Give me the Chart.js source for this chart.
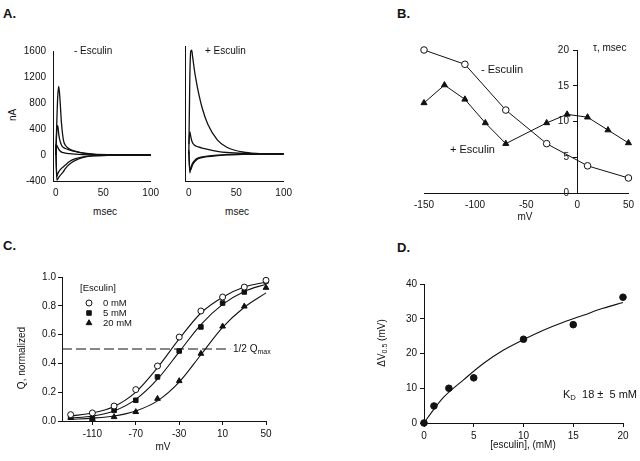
<!DOCTYPE html>
<html>
<head>
<meta charset="utf-8">
<script src="https://cdn.jsdelivr.net/npm/chart.js@4.4.1/dist/chart.umd.min.js"></script>
<style>
  body { margin: 0; background: #fff; }
  #fig { position: relative; width: 640px; height: 461px; overflow: hidden;
         font-family: Arial, "Liberation Sans", sans-serif; color: #111; }
  canvas { position: absolute; }
  .t { position: absolute; white-space: nowrap; font-size: 10px; line-height: 1; }
  .c { transform: translate(-50%, -50%); }
  .l { transform: translateY(-50%); }
  .rot { transform: translate(-50%, -50%) rotate(-90deg); }
  .p { font-weight: bold; font-size: 13px; }
  sub { font-size: 70%; vertical-align: -2px; line-height: 0; }
</style>
</head>
<body>
<div id="fig">
  <canvas id="aCtrl" width="145" height="165" style="left:20px;top:38px"></canvas>
  <canvas id="aEsc" width="118" height="165" style="left:180px;top:38px"></canvas>
  <canvas id="bTau" width="232" height="177" style="left:408px;top:40px"></canvas>
  <canvas id="cQ" width="258" height="174" style="left:20px;top:269px"></canvas>
  <canvas id="dShift" width="245" height="170" style="left:390px;top:275px"></canvas>

  <div class="t l p" style="left:3px;top:13px">A.</div>
  <div class="t l p" style="left:397px;top:13px">B.</div>
  <div class="t l p" style="left:3px;top:245px">C.</div>
  <div class="t l p" style="left:397px;top:247px">D.</div>

  <!-- A -->
  <div class="t rot" style="left:13px;top:115px">nA</div>
  <div class="t l" style="left:74px;top:51px">- Esculin</div>
  <div class="t l" style="left:205px;top:51px">+ Esculin</div>
  <div class="t c" style="left:105px;top:212px">msec</div>
  <div class="t c" style="left:237px;top:212px">msec</div>

  <!-- B -->
  <div class="t l" style="left:481px;top:69px;font-size:11px">- Esculin</div>
  <div class="t l" style="left:450px;top:149px;font-size:11px">+ Esculin</div>
  <div class="t l" style="left:593px;top:48px">τ, msec</div>
  <div class="t c" style="left:525px;top:217px">mV</div>

  <!-- C -->
  <div class="t rot" style="left:22px;top:358px">Q, normalized</div>
  <div class="t l" style="left:80px;top:288px;font-size:9.5px">[Esculin]</div>
  <div class="t l" style="left:103px;top:303px;font-size:9.5px">0 mM</div>
  <div class="t l" style="left:103px;top:313px;font-size:9.5px">5 mM</div>
  <div class="t l" style="left:103px;top:323px;font-size:9.5px">20 mM</div>
  <div class="t l" style="left:233px;top:349px">1/2 Q<sub>max</sub></div>
  <div class="t c" style="left:163px;top:447px">mV</div>

  <!-- D -->
  <div class="t rot" style="left:382px;top:343px">ΔV<sub>0.5</sub> (mV)</div>
  <div class="t l" style="left:563px;top:394px;font-size:11px">K<sub>D</sub>&nbsp; 18 ±&nbsp; 5 mM</div>
  <div class="t c" style="left:523px;top:445px">[esculin], (mM)</div>
</div>

<script>
// ---- A: charge movement traces (nA vs msec)
const traceTime = [0, 1, 2, 3, 4, 6, 8, 10, 14, 20, 30, 40, 60, 80, 100];
const ctrlOn1 = [0, 500, 900, 1056, 930, 480, 230, 150, 95, 60, 25, 10, 3, 0, 0];
const ctrlOn2 = [0, 380, 450, 330, 240, 150, 115, 100, 80, 55, 28, 12, 4, 0, 0];
const ctrlOn3 = [0, 150, 120, 90, 70, 45, 35, 28, 20, 12, 6, 3, 0, 0, 0];
const ctrlOff1 = [160, -330, -290, -260, -235, -205, -180, -155, -105, -60, -25, -10, -3, 0, 0];
const ctrlOff2 = [100, -385, -370, -345, -325, -290, -255, -210, -145, -87, -33, -13, -4, 0, 0];
const escOn1 = [0, 1100, 1520, 1540, 1440, 1230, 1065, 920, 685, 440, 210, 100, 22, 5, 0];
const escOn2 = [150, 330, 260, 200, 165, 130, 115, 105, 88, 68, 40, 22, 7, 2, 0];
const escOff1 = [60, -280, -210, -165, -135, -98, -72, -58, -42, -30, -18, -10, -4, -1, 0];
const escOff2 = [30, -235, -235, -195, -158, -115, -88, -70, -52, -38, -24, -13, -5, -2, 0];
const aTicksX = [0, 50, 100];
const aTicksY = [-400, 0, 400, 800, 1200, 1600];

// ---- B: time constants (msec vs mV)
const bCtrlV = [-150, -110, -70, -30, 10, 50];
const bCtrlTau = [20, 18, 11.6, 6.9, 3.8, 2.1];
const bEscV = [-150, -130, -110, -90, -70, -30, -10, 10, 30, 50];
const bEscTau = [12.6, 15.1, 13.1, 9.8, 6.9, 9.8, 11.0, 10.6, 8.8, 7.0];
const bTicksX = [-150, -100, -50, 0, 50];
const bTicksY = [0, 5, 10, 15, 20];

// ---- C: Q-V curves
const cVoltage = [-130, -110, -90, -70, -50, -30, -10, 10, 30, 50];
const cQ0 = [0.044, 0.056, 0.104, 0.218, 0.382, 0.583, 0.764, 0.861, 0.93, 0.977];
const cQ5 = [0.028, 0.021, 0.074, 0.144, 0.306, 0.486, 0.653, 0.819, 0.896, 0.972];
const cQ20 = [0.023, 0.016, 0.028, 0.063, 0.155, 0.278, 0.468, 0.657, 0.796, 0.926];
const cFit0 = [0.035, 0.055, 0.1, 0.2, 0.37, 0.57, 0.75, 0.86, 0.93, 0.965];
const cFit5 = [0.02, 0.035, 0.07, 0.15, 0.29, 0.48, 0.67, 0.81, 0.9, 0.95];
const cFit20 = [0.012, 0.02, 0.035, 0.07, 0.14, 0.27, 0.46, 0.65, 0.79, 0.89];
const cHalfX = [-138, 17];
const cHalfY = [0.5, 0.5];
const cLegend = ['0 mM', '5 mM', '20 mM'];
const cTicksX = [-110, -70, -30, 10, 50];
const cTicksY = [0, 0.2, 0.4, 0.6, 0.8, 1.0];

// ---- D: shift of V0.5 vs [esculin]
const dConc = [0, 1, 2.5, 5, 10, 15, 20];
const dShift = [0, 4.9, 10, 13, 24.1, 28.3, 36.2];
const dFitConc = [0, 1, 2, 4, 6, 8, 10, 12, 14, 16, 18, 20];
const dFitShift = [0, 4, 7.5, 12.5, 17.2, 21, 24, 26.7, 29, 31, 33, 34.7];
const dTicksX = [0, 5, 10, 15, 20];
const dTicksY = [0, 10, 20, 30, 40];

const INK = '#111';
Chart.defaults.font.family = 'Arial, "Liberation Sans", sans-serif';
Chart.defaults.font.size = 10;
Chart.defaults.color = INK;

function xy(xs, ys) {
  return xs.map((x, i) => ({ x: x, y: ys[i] }));
}

// one linear axis, size fixed so the plot area lands where it should
function axis(min, max, tickValues, size, tickLen, pad, isX) {
  return {
    type: 'linear',
    min: min,
    max: max,
    afterBuildTicks: s => { s.ticks = tickValues.map(v => ({ value: v })); },
    afterFit: s => { if (isX) s.height = size; else s.width = size; },
    grid: { display: tickLen > 0, drawOnChartArea: false, drawTicks: tickLen > 0,
            tickLength: tickLen, color: INK, lineWidth: 1 },
    border: { display: true, color: INK, width: 1 },
    ticks: { padding: pad, autoSkip: false, maxRotation: 0, color: INK,
             callback: v => String(v) }
  };
}

function trace(ys) {
  return {
    data: xy(traceTime, ys),
    borderColor: INK,
    borderWidth: 1.3,
    pointRadius: 0,
    cubicInterpolationMode: 'monotone',
    clip: false
  };
}

function baseOptions(padding, scales) {
  return {
    responsive: false,
    animation: false,
    layout: { padding: padding },
    plugins: { legend: { display: false }, tooltip: { enabled: false } },
    scales: scales
  };
}

// A, without esculin
new Chart(document.getElementById('aCtrl'), {
  type: 'line',
  data: { datasets: [ctrlOn1, ctrlOn2, ctrlOn3, ctrlOff1, ctrlOff2].map(trace) },
  options: baseOptions({ left: 0, top: 8, right: 12, bottom: 0 }, {
    x: axis(-3, 100, aTicksX, 22, 0, 6, true),
    y: axis(-400, 1600, aTicksY, 33, 0, 7, false)
  })
});

// A, with esculin (no y labels)
const aEscY = axis(-400, 1600, aTicksY, 0, 0, 0, false);
aEscY.ticks.display = false;
new Chart(document.getElementById('aEsc'), {
  type: 'line',
  data: { datasets: [escOn1, escOn2, escOff1, escOff2].map(trace) },
  options: baseOptions({ left: 4, top: 8, right: 12, bottom: 0 }, {
    x: axis(-4, 100, aTicksX, 22, 0, 6, true),
    y: aEscY
  })
});

// B, the tau axis crosses at 0 mV; labels sit to its left
const bY = axis(0, 20, bTicksY, 0, 4, 3, false);
bY.position = { x: 0 };
bY.ticks.callback = v => String(v) + '   ';
new Chart(document.getElementById('bTau'), {
  type: 'line',
  data: {
    datasets: [
      { data: xy(bEscV, bEscTau), borderColor: INK, borderWidth: 1, pointStyle: 'triangle',
        pointRadius: 3.5, pointBackgroundColor: INK, pointBorderColor: INK, clip: false },
      { data: xy(bCtrlV, bCtrlTau), borderColor: INK, borderWidth: 1, pointStyle: 'circle',
        pointRadius: 3.3, pointBackgroundColor: '#fff', pointBorderColor: INK, pointBorderWidth: 1, clip: false }
    ]
  },
  options: baseOptions({ left: 14, top: 10, right: 8, bottom: 0 }, {
    x: axis(-150, 50, bTicksX, 24, 0, 6, true),
    y: bY
  })
});

// C
const cLegendMarks = {
  id: 'cLegendMarks',
  afterDatasetsDraw(chart) {
    const ctx = chart.ctx;
    const a = chart.chartArea;
    cLegend.forEach((name, i) => {
      const ds = chart.data.datasets[i];
      ctx.save();
      ctx.fillStyle = ds.pointBackgroundColor;
      ctx.strokeStyle = ds.pointBorderColor;
      ctx.lineWidth = 1;
      Chart.helpers.drawPoint(ctx, { pointStyle: ds.pointStyle, radius: ds.pointRadius, borderWidth: 1, rotation: 0 },
        a.left + 27, a.top + 26 + i * 10);
      ctx.restore();
    });
  }
};

function qPoints(ys, style, fill, r) {
  return { data: xy(cVoltage, ys), showLine: false, pointStyle: style, pointRadius: r,
           pointBackgroundColor: fill, pointBorderColor: INK, pointBorderWidth: 1, clip: false };
}
function qFit(ys) {
  return { data: xy(cVoltage, ys), borderColor: INK, borderWidth: 1.1, pointRadius: 0,
           cubicInterpolationMode: 'monotone', clip: false };
}

new Chart(document.getElementById('cQ'), {
  type: 'line',
  data: {
    datasets: [
      qPoints(cQ0, 'circle', '#fff', 3),
      qPoints(cQ5, 'rect', INK, 3.2),
      qPoints(cQ20, 'triangle', INK, 3.3),
      qFit(cFit0), qFit(cFit5), qFit(cFit20),
      { data: xy(cHalfX, cHalfY), borderColor: INK, borderWidth: 1.2, borderDash: [10, 4],
        pointRadius: 0, clip: false }
    ]
  },
  options: baseOptions({ left: 0, top: 8, right: 12, bottom: 0 }, {
    x: axis(-138, 50, cTicksX, 22, 4, 3, true),
    y: Object.assign(axis(0, 1, cTicksY, 42, 4, 2, false),
      { ticks: { padding: 2, autoSkip: false, color: INK, callback: v => v.toFixed(1) } })
  }),
  plugins: [cLegendMarks]
});

// D
new Chart(document.getElementById('dShift'), {
  type: 'line',
  data: {
    datasets: [
      { data: xy(dConc, dShift), showLine: false, pointStyle: 'circle', pointRadius: 3.3,
        pointBackgroundColor: INK, pointBorderColor: INK, clip: false },
      { data: xy(dFitConc, dFitShift), borderColor: INK, borderWidth: 1.1, pointRadius: 0,
        cubicInterpolationMode: 'monotone', clip: false }
    ]
  },
  options: baseOptions({ left: 0, top: 8, right: 12, bottom: 0 }, {
    x: axis(0, 20, dTicksX, 22, 4, 3, true),
    y: axis(0, 40, dTicksY, 34, 4, 3, false)
  })
});
</script>
</body>
</html>
